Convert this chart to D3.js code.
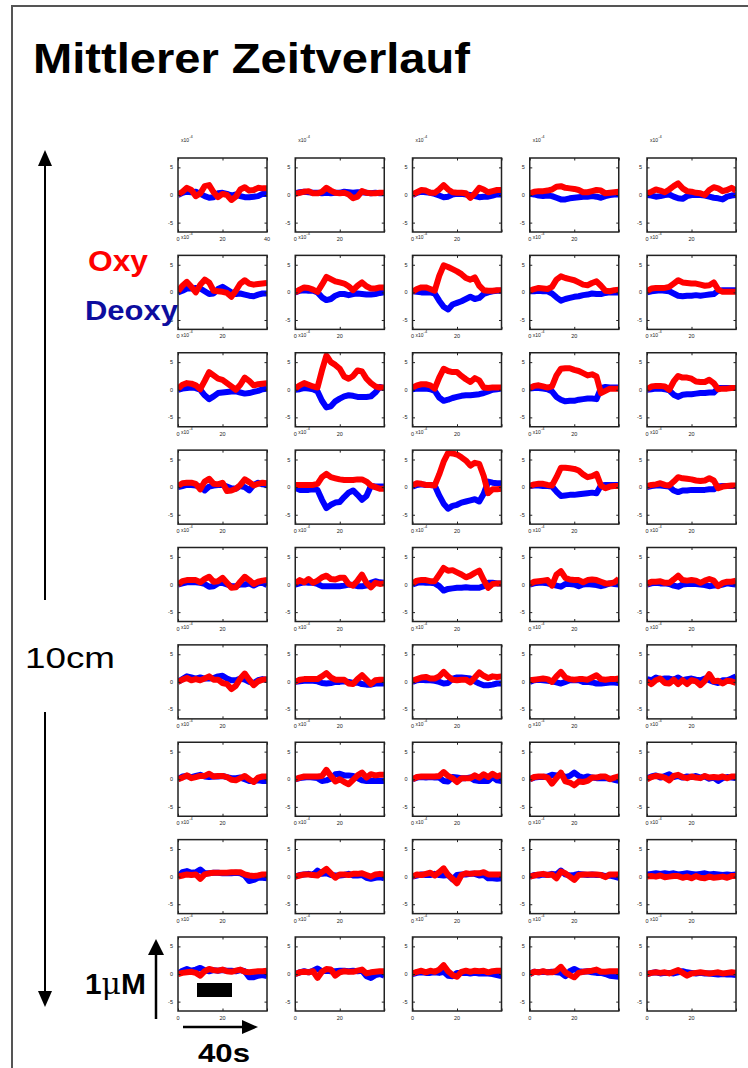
<!DOCTYPE html>
<html>
<head>
<meta charset="utf-8">
<script src="https://d3js.org/d3.v7.min.js"></script>
<style>
  body { margin: 0; background: #fff; }
  text { font-family: "Liberation Sans", Arial, sans-serif; }
</style>
<title>Mittlerer Zeitverlauf</title>
</head>
<body>
<svg id="chart" width="748" height="1068"></svg>
<script>
// time axis of every small panel (s)
const seconds = [0,2,4,6,8,10,12,14,16,18,20,22,24,26,28,30,32,34,36,38,40];
const yTicks = [5, 0, -5];
const yTickLabels = ["5", "0", "-5"];
const xTicks = [0, 20, 40];
const xTickLabels = ["0", "20", "40"];

// Oxy (red) and Deoxy (blue) per row, 5 channels each, unit x10^-4
const oxyRow1 = [
  [0.1,0.6,1.3,0.9,-0.2,0.3,1.6,1.8,0.5,-0.4,0.2,0,-0.9,-0.3,1.0,1.4,0.8,0.9,1.3,1.2,1.2],
  [0.2,0.4,0.6,0.7,0.3,0.3,0.6,1.3,0.8,0.4,0.3,0.4,0.1,-0.6,-0.3,0.7,0.4,0.3,0.3,0.4,0.4],
  [0.1,0.5,0.9,0.8,0.4,0.4,1.0,1.8,1.0,0.5,0.4,0.4,0.3,-0.5,0.3,1.3,1.0,0.5,0.7,0.9,0.9],
  [0.3,0.6,0.7,0.7,0.8,1.0,1.5,1.6,1.3,1.2,1.1,0.9,0.5,0.5,0.7,0.9,0.8,0.3,0.4,0.5,0.6],
  [0.3,0.6,1.0,0.8,0.5,1.0,1.6,2.1,1.2,0.7,0.6,0.4,0.3,0.0,0.9,1.4,1.2,0.7,0.9,1.3,0.8]
];
const deoxyRow1 = [
  [0,0.4,0.6,0.5,0.6,0.2,-0.2,-0.5,-0.4,0.3,0.4,0.2,-0.1,0.1,-0.2,-0.4,-0.4,-0.3,-0.2,0.2,0.2],
  [0.3,0.5,0.6,0.5,0.4,0.4,0.3,0.4,0.3,0.4,0.4,0.6,0.5,0.4,0.5,0.5,0.4,0.3,0.4,0.3,0.3],
  [0,0.4,0.6,0.5,0.4,0.2,-0.1,-0.4,-0.3,0.1,0.2,0.2,0.1,0,-0.2,-0.4,-0.3,-0.3,-0.1,0.1,0.1],
  [0.2,0.1,-0.1,-0.2,-0.1,-0.2,-0.5,-0.8,-0.8,-0.6,-0.5,-0.4,-0.3,-0.3,-0.2,-0.3,-0.5,-0.2,0,0.1,0.1],
  [0,-0.1,-0.3,-0.2,0,0.1,-0.3,-0.6,-0.7,-0.2,0,0,0,-0.1,-0.3,-0.5,-0.6,-0.8,-0.3,-0.1,0]
];
const oxyRow2 = [
  [0.2,1.2,1.9,1.0,0.0,1.4,2.3,1.8,0.3,0.2,0.1,-0.1,-0.8,0.3,1.6,2.2,1.6,1.4,1.5,1.6,1.7],
  [0,0.5,0.9,0.8,0.5,0.1,1.4,2.8,2.4,2.0,1.8,1.6,1.1,0.4,1.2,1.8,1.1,0.7,0.7,0.9,0.9],
  [0.1,0.6,0.9,0.9,0.6,0.3,3.0,4.9,4.6,4.2,3.8,3.3,2.6,2.3,2.7,1.2,0.4,0.3,0.3,0.4,0.4],
  [0.3,0.6,0.8,0.7,0.6,1.0,2.3,2.9,2.6,2.4,2.2,1.8,1.4,1.3,1.7,2.0,1.2,0.3,0.2,0.4,0.5],
  [0.2,0.7,0.8,0.8,0.8,1.0,1.6,2.2,1.8,1.7,1.6,1.6,1.4,1.2,1.3,1.8,0.5,0.1,0.1,0.1,0.1]
];
const deoxyRow2 = [
  [0,0.3,0.7,0.7,0.8,0.7,0.2,-0.3,-0.2,0.6,1.0,0.5,0,-0.3,-0.2,-0.4,-0.6,-0.7,-0.4,-0.2,-0.2],
  [0,0.3,0.4,0.3,0.3,0,-0.9,-1.4,-1.2,-0.6,-0.3,-0.3,-0.5,-0.3,-0.2,-0.3,-0.4,-0.4,-0.3,-0.1,0],
  [0.2,0.1,0,0,0,-0.2,-1.5,-2.6,-3.1,-2.2,-1.9,-1.6,-1.2,-0.8,-1.2,-1.0,-0.3,0,0.2,0.3,0.3],
  [0.2,0.2,0.3,0.2,0.2,-0.2,-0.9,-1.5,-1.2,-1.0,-0.8,-0.7,-0.5,-0.4,-0.2,-0.3,-0.3,-0.1,0,0,0],
  [0,0.2,0.3,0.4,0.3,0.2,-0.2,-0.6,-0.7,-0.6,-0.6,-0.5,-0.6,-0.5,-0.4,-0.3,0.3,0.4,0.4,0.4,0.4]
];
const oxyRow3 = [
  [0.2,0.9,1.2,1.1,0.8,0.1,1.6,3.2,2.6,2.0,1.8,1.2,0.6,0.0,0.9,2.2,1.6,0.8,1.0,1.1,1.2],
  [0.2,0.8,1.2,0.9,0.6,0.4,3.5,6.2,5.0,4.5,3.8,2.4,2.0,2.5,3.5,3.3,2.0,1.2,0.6,0.4,0.4],
  [0.4,0.8,1.0,1.0,0.8,0.2,2.2,3.8,3.4,3.2,3.2,2.5,1.9,1.4,2.1,1.7,0.4,0.3,0.4,0.4,0.4],
  [0.3,0.7,0.8,0.6,0.4,0.6,2.6,3.8,3.9,3.9,3.6,3.4,3.0,2.6,2.8,2.4,-0.6,-0.2,0.2,0.2,0.2],
  [0.1,0.6,0.7,0.7,0.6,0,1.5,2.5,2.2,2.2,2.0,1.5,1.4,1.4,1.8,1.2,0.1,0.2,0.2,0.3,0.3]
];
const deoxyRow3 = [
  [0,0.2,0.3,0.4,0.3,0,-1.0,-1.7,-1.2,-0.6,-0.5,-0.4,-0.3,-0.3,-0.5,-0.7,-0.6,-0.4,-0.2,0.1,0.2],
  [0,0.1,0.3,0.2,0.1,-0.3,-2.0,-3.2,-3.0,-2.1,-1.6,-1.2,-1.0,-1.1,-1.3,-1.3,-1.3,-1.2,-0.5,0.5,0.3],
  [0.1,0.2,0.2,0.2,0.1,-0.2,-1.4,-2.0,-1.8,-1.5,-1.3,-1.1,-1.0,-1.0,-0.9,-0.8,-0.6,-0.3,0,0.1,0.2],
  [0.2,0.3,0.3,0.2,0.1,-0.3,-1.3,-1.8,-2.1,-2.0,-2.0,-1.8,-1.7,-1.6,-1.6,-1.7,0.3,0.5,0.4,0.4,0.4],
  [0,0.1,0.2,0.2,0.1,-0.1,-0.9,-1.3,-0.9,-0.8,-0.8,-0.7,-0.6,-0.6,-0.5,-0.5,0.3,0.3,0.3,0.3,0.3]
];
const oxyRow4 = [
  [0.2,0.7,0.8,0.8,0.6,-0.4,1.0,1.5,0.6,0.5,0.8,-0.7,-0.6,-0.3,0.4,1.4,0.9,0.3,0.6,0.8,0.7],
  [0.4,0.4,0.4,0.4,0.4,0.6,1.8,2.4,1.8,1.6,1.4,1.3,1.3,1.3,1.4,1.4,1.0,0.3,0,-0.3,-0.3],
  [0.3,0.7,0.6,0.4,0.4,0.3,2.3,4.6,6.2,6.1,5.9,5.4,4.8,3.9,4.4,4.2,2.0,-1.1,-0.4,-0.4,-0.3],
  [0.2,0.5,0.6,0.6,0.4,0.3,1.8,3.5,3.5,3.4,3.3,3.0,2.3,1.8,2.0,2.4,0.3,-0.2,0.1,0.2,0.2],
  [0.2,0.4,0.5,0.7,0.4,0.3,1.0,1.8,1.6,1.5,1.4,1.2,1.1,1.2,1.6,1.2,-0.2,0.1,0.2,0.3,0.3]
];
const deoxyRow4 = [
  [0,0.2,0.4,0.4,0.3,0.1,-0.6,0.1,0.3,0.4,0.4,0.1,-0.2,-0.3,0.2,0,-0.6,0.4,0.8,0.5,0.4],
  [-0.1,-0.5,-0.5,-0.5,-0.4,-0.5,-2.3,-3.8,-3.2,-2.8,-2.7,-1.8,-1.0,-0.6,-1.4,-2.3,-1.6,0.2,0.1,0.1,0.1],
  [0.1,0.4,0.5,0.4,0.4,0.3,-1.5,-3.0,-3.9,-3.4,-3.2,-2.8,-2.6,-2.4,-2.2,-2.6,-1.2,1.0,0.8,0.7,0.7],
  [0.2,0.3,0.3,0.2,0.2,0.1,-0.8,-1.6,-1.5,-1.4,-1.4,-1.3,-1.2,-1.1,-1.0,-1.1,0.3,0.4,0.4,0.4,0.4],
  [0,0.2,0.3,0.3,0.2,0.1,-0.6,-0.9,-0.6,-0.6,-0.5,-0.5,-0.5,-0.5,-0.4,-0.4,0.1,0.2,0.2,0.2,0.2]
];
const oxyRow5 = [
  [0,0.6,0.8,0.8,0.8,0.4,1.0,1.4,0.5,0.6,1.2,0.3,-0.6,-0.5,0.5,1.4,0.8,0.1,0.5,0.7,0.8],
  [0.2,0.8,0.4,1.0,0.3,0.7,1.3,1.6,1.0,0.9,1.2,1.2,0.1,-0.2,0.7,1.8,0.3,-0.5,0.3,0.1,0.2],
  [0.2,0.7,0.8,0.8,0.6,0.6,1.8,3.0,2.5,2.6,2.2,1.8,1.3,1.6,2.1,2.5,0.8,-0.6,0.1,0.2,0.2],
  [0.1,0.5,0.6,0.7,0.8,-0.2,1.8,2.4,1.2,0.9,0.8,0.8,0.4,0.8,0.9,0.8,0.5,0.2,0.2,0.4,1.0],
  [0.1,0.5,0.5,0.6,0.3,0.3,0.9,1.6,0.8,0.7,0.8,0.7,0.3,0.7,1.0,0.7,-0.3,0.3,0.5,0.5,0.7]
];
const deoxyRow5 = [
  [0,0.2,0.4,0.4,0.4,0.3,0.1,-0.4,-0.3,0.2,0.3,0,-0.3,-0.3,0,0,0.2,-0.2,0.2,0.3,-0.1],
  [0,0.2,0.4,0.3,0.3,0.1,-0.3,-0.3,-0.3,-0.3,-0.3,-0.2,0,-0.1,-0.3,-0.3,-0.2,0.3,0.6,0.4,0.3],
  [0,0.3,0.4,0.3,0.3,0.2,-0.3,-1.1,-0.8,-0.7,-0.6,-0.6,-0.5,-0.6,-0.6,-0.6,-0.3,0.3,0.3,0.2,0.2],
  [0,0.2,0.3,0.3,0.2,0,-0.2,-0.4,0.1,0.1,0,-0.3,0,0.1,0,-0.1,-0.3,-0.1,0.2,0.1,0],
  [0,0.2,0.3,0.2,0.2,0.1,-0.2,-0.4,0,0.1,0.1,0.1,0,-0.1,-0.3,-0.2,-0.2,0,0.2,0.1,0]
];
const oxyRow6 = [
  [0,0.4,0.7,0.3,0.5,0.3,0.6,1.0,0.4,0.4,-0.2,-0.4,-1.3,-0.7,0.6,1.5,0.4,-0.6,0.1,0.4,0.5],
  [0,0.4,0.5,0.5,0.5,0.5,1.0,1.6,0.8,0.4,0.4,0.4,-0.3,-0.4,0.5,1.2,0.4,-0.4,0.3,0.4,0.4],
  [0.2,0.5,0.8,0.9,0.6,0.6,1.0,1.8,1.0,0.4,0.3,0.4,0.4,-0.1,0.8,1.7,1.1,0.7,1.0,0.9,1.0],
  [0.3,0.4,0.5,0.6,0.5,0,1.0,1.8,0.8,0.5,0.4,0.5,0.5,0.4,0.8,1.2,0.5,0.4,0.5,0.5,0.6],
  [0.1,-0.4,0.3,0.6,-0.2,-0.3,0.4,-0.4,0.3,-0.4,0.3,0.1,-0.6,0.2,1.4,0.1,0.2,-0.3,0.2,0.1,-0.2]
];
const deoxyRow6 = [
  [0,0.5,1.0,0.8,0.6,0.8,0.6,0.6,0.7,1.0,1.1,0.6,0.3,0.3,0.6,0.4,0,-0.2,0.3,0.5,0.4],
  [0,0.1,0.2,0.2,0.2,0.1,-0.2,-0.3,-0.2,0,0,0.1,0,-0.2,-0.1,-0.4,-0.5,-0.5,-0.3,-0.3,-0.3],
  [0,0.3,0.4,0.3,0.3,0.2,0,-0.3,-0.2,0.6,0.8,0.8,0.7,0.6,0.1,-0.3,-0.6,-0.6,-0.5,-0.3,-0.3],
  [0,0.3,0.4,0.3,0.2,0.1,-0.1,-0.3,0,0.3,0.3,0.3,0,0,-0.1,-0.3,-0.3,-0.2,-0.1,-0.1,-0.2],
  [0.5,0.3,0.8,0.5,0.6,0.6,0.4,0.8,0.3,0.5,0.6,0.4,0.3,0.6,0.3,0,-0.2,0.3,0.3,0.6,1.0]
];
const oxyRow7 = [
  [0,0.3,0.7,0.2,0.4,0.6,0.6,1.0,0.5,0.6,0.6,0.4,-0.1,-0.2,0.2,0.6,0,-0.5,0.3,0.5,0.5],
  [0,0.3,0.5,0.5,0.5,0.5,0.6,1.7,0.6,-0.4,0,-0.5,-0.9,-0.1,0.7,1.2,0.3,0.9,0.7,0.8,0.8],
  [0,0.4,0.5,0.5,0.5,0.5,0.6,1.3,0.6,0.2,-0.5,0.2,0.2,0.2,0.7,0.3,0.9,0.4,1.0,0.5,0.8],
  [0,0.4,0.5,0.5,0.3,-0.8,0.2,1.2,-0.4,-0.6,-1.1,-0.4,-0.5,-0.3,0.3,0.3,0.5,0.5,0,0.3,0.5],
  [0,0.4,0.6,0.5,0.3,-0.2,0.6,0.8,0.4,0.2,0.5,0.3,0.2,0.6,0.3,0.4,0.3,0.5,0.2,0.5,0.5]
];
const deoxyRow7 = [
  [0,0.5,0.6,0.4,0.6,0.8,0.5,0.4,0.5,0.5,0.6,0.4,0.2,0.2,0.3,0,-0.3,-0.3,-0.2,-0.3,-0.3],
  [0,0.2,0.3,0.4,0.3,0.2,-0.3,-0.2,0.1,0.9,1.0,0.7,0.7,0.6,0.2,-0.2,-0.3,-0.3,-0.3,-0.3,-0.3],
  [0,0.3,0.4,0.3,0.4,0.3,0.3,-0.3,-0.4,0.4,0.3,0.2,0.2,0.3,-0.2,-0.3,-0.3,-0.3,0.4,-0.2,-0.3],
  [0,0.3,0.4,0.4,0.5,0.8,0.7,0.8,0.4,0.6,1.2,0.6,0.3,0.5,0.3,0.2,0.2,0.2,0.1,-0.1,-0.3],
  [0.2,0.5,0.7,0.3,0.6,0.9,0.4,0.6,0.3,0.5,0.4,0.6,0.3,0.5,0.1,0.3,-0.3,0.2,0.4,0.3,0.2]
];
const oxyRow8 = [
  [0,0.2,0.4,0.3,0.4,-0.4,0.4,0.6,0.7,0.7,0.7,0.7,0.8,0.8,0.8,0.4,0.2,0.1,0.2,0.4,0.4],
  [0,0.2,0.4,0.4,0.3,0.2,0.8,1.4,0.6,-0.2,0.4,0.4,0.3,0.5,0.5,0.6,0.3,0,0.4,0.5,0.4],
  [0,0.4,0.3,0.5,0.7,0.2,0.8,1.5,0.3,-0.4,-1.2,0.3,0.6,0.5,0.6,0.6,0.8,0.4,0.4,0.4,0.4],
  [0,0.2,0.4,0.5,0.3,0.4,-0.3,0.9,0.6,0.0,-0.6,0.3,0.4,0.4,0.4,0.4,0.3,-0.1,0.4,0.4,0.4],
  [0,0.1,0,0.2,-0.1,0,0.1,0.1,-0.2,0,-0.3,0.1,-0.2,-0.3,0,-0.2,-0.1,0,-0.2,0.1,0.1]
];
const deoxyRow8 = [
  [0,0.8,1.0,0.7,0.8,1.3,0.6,0.6,0.7,0.7,0.6,0.6,0.6,0.7,0.6,0.2,-0.8,-0.6,-0.2,-0.2,-0.3],
  [0,0.3,0.4,0.5,0.3,1.1,0.5,0.6,0.3,0.2,0.2,0.3,0.5,0.2,0.2,0.3,-0.2,-0.4,-0.2,-0.1,-0.3],
  [0,0.2,0.4,0.3,0.3,0.5,0.3,0.2,0.3,-0.5,0.3,0.4,0.4,0.5,0.5,0.2,0.3,-0.3,-0.3,-0.4,-0.3],
  [0,0.3,0.2,0.4,0.3,0.5,0.4,1.1,0.4,0.2,0.3,0.5,0.4,0.3,0.4,0.3,0.3,0.1,0.2,0,-0.2],
  [0.4,0.5,0.6,0.5,0.6,0.5,0.6,0.4,0.5,0.6,0.5,0.4,0.5,0.6,0.4,0.5,0.4,0.3,0.4,0.3,0.4]
];
const oxyRow9 = [
  [0,0.2,0.3,0.4,0.2,-0.3,0.5,0.9,0.7,0.6,0.8,0.5,0.4,0.6,0.8,0.4,0.3,0.4,0.5,0.5,0.6],
  [0,0.3,0.4,0.3,0.5,-0.7,0.4,0.9,0.8,-0.3,0.3,0.5,0.4,0.4,0.6,0.8,0.1,0.3,0.4,0.5,0.5],
  [0.1,0.4,0.6,0.3,0.6,0.4,0.8,1.6,0.5,-0.2,-0.5,0.4,0.6,0.4,0.6,0.5,0.6,0.3,0.5,0.6,0.6],
  [0,0.4,0.3,0.5,0.3,0.3,0.6,1.3,0.3,-0.2,-0.6,0.2,0.4,0.5,0.6,0.8,0.4,0.4,0.5,0.5,0.5],
  [0,0.2,0.3,0.2,0.3,0.1,0.4,0.7,0.2,-0.3,0.1,0.2,0.3,0.2,0.1,0.2,0.3,0.1,0.2,0.3,0.2]
];
const deoxyRow9 = [
  [0,0.6,0.9,0.6,0.8,1.1,0.7,0.5,0.7,0.6,0.7,0.6,0.6,0.5,0.7,0.5,-0.6,-0.6,-0.3,-0.2,-0.4],
  [0,0.3,0.5,0.3,0.6,1.0,0.5,0.6,0.5,0.5,0.6,0.6,0.5,0.6,0.5,0.6,-0.4,-0.7,-0.2,0,-0.3],
  [0,0.2,0.3,0.2,0.2,0.3,0.2,0.4,-0.3,-0.4,0.2,0.2,0.2,0.1,0.2,0.1,0.1,0.1,0,-0.2,-0.4],
  [0,0.4,0.3,0.4,0.3,0.4,0.3,0.2,-0.4,0.5,0.9,0.5,0.4,0.5,0.3,0.2,0.2,0,-0.3,-0.4,-0.5],
  [0,0.2,0.3,0.1,0.2,0.2,0.1,0.3,0.5,0.3,0.2,0.1,0.2,0.1,0.1,0,-0.1,0,-0.1,-0.1,-0.2]
];

const oxyRows = [oxyRow1, oxyRow2, oxyRow3, oxyRow4, oxyRow5, oxyRow6, oxyRow7, oxyRow8, oxyRow9];
const deoxyRows = [deoxyRow1, deoxyRow2, deoxyRow3, deoxyRow4, deoxyRow5, deoxyRow6, deoxyRow7, deoxyRow8, deoxyRow9];

var svg = d3.select("#chart");
var panelW = 89;
var panelH = 74;

// page frame
svg.append("path")
  .attr("d", "M12,1068 V6 H748")
  .attr("fill", "none")
  .attr("stroke", "#555")
  .attr("stroke-width", 2);

svg.append("text")
  .attr("x", 33).attr("y", 73)
  .attr("font-size", 42).attr("font-weight", "bold")
  .attr("textLength", 437).attr("lengthAdjust", "spacingAndGlyphs")
  .text("Mittlerer Zeitverlauf");

var colPos = d3.scaleLinear().domain([0, 4]).range([178, 647]);
var rowPos = d3.scaleLinear().domain([0, 8]).range([158, 937]);
var x = d3.scaleLinear().domain([0, 40]).range([0, panelW]);
var y = d3.scaleLinear().domain([-6.7, 6.7]).range([panelH, 0]);

var line = d3.line()
  .x((d, i) => x(seconds[i]))
  .y((d) => y(d));

svg.append("defs").append("clipPath").attr("id", "panelClip")
  .append("rect").attr("width", panelW).attr("height", panelH);

oxyRows.forEach(function (row, r) {
  row.forEach(function (oxy, c) {
    var g = svg.append("g")
      .attr("transform", "translate(" + colPos(c) + "," + rowPos(r) + ")");

    var plot = g.append("g").attr("clip-path", "url(#panelClip)");
    plot.append("path")
      .attr("d", line(deoxyRows[r][c]))
      .attr("fill", "none")
      .attr("stroke", "#0000ff")
      .attr("stroke-width", 6)
      .attr("stroke-linejoin", "round");
    plot.append("path")
      .attr("d", line(oxy))
      .attr("fill", "none")
      .attr("stroke", "#ff0000")
      .attr("stroke-width", 6)
      .attr("stroke-linejoin", "round");

    g.append("rect")
      .attr("width", panelW).attr("height", panelH)
      .attr("fill", "none")
      .attr("stroke", "#222")
      .attr("stroke-width", 1.5);

    // inward ticks on all four sides
    g.append("g").call(d3.axisLeft(y).tickValues(yTicks).tickSize(-2.5).tickFormat(""))
      .call((a) => a.select(".domain").remove());
    g.append("g").attr("transform", "translate(" + panelW + ",0)")
      .call(d3.axisRight(y).tickValues(yTicks).tickSize(-2.5).tickFormat(""))
      .call((a) => a.select(".domain").remove());
    g.append("g").attr("transform", "translate(0," + panelH + ")")
      .call(d3.axisBottom(x).tickValues(xTicks).tickSize(-2.5).tickFormat(""))
      .call((a) => a.select(".domain").remove());
    g.append("g")
      .call(d3.axisTop(x).tickValues(xTicks).tickSize(-2.5).tickFormat(""))
      .call((a) => a.select(".domain").remove());
    g.selectAll(".tick line").attr("stroke", "#222");

    // tiny tick labels
    g.selectAll(".ylab").data(yTicks).enter().append("text")
      .attr("x", -5).attr("y", (d) => y(d) + 2)
      .attr("text-anchor", "end").attr("font-size", 5.5).attr("fill", "#222")
      .text((d, i) => yTickLabels[i]);
    var shown = r === 0 && c === 0 ? xTicks : xTicks.slice(0, 2);
    g.selectAll(".xlab").data(shown).enter().append("text")
      .attr("x", (d) => x(d)).attr("y", panelH + 9)
      .attr("text-anchor", "middle").attr("font-size", 5.5).attr("fill", "#222")
      .text((d, i) => xTickLabels[i]);

    // exponent label, sits just right of the "0" of the panel above
    var mult = g.append("text")
      .attr("x", 3).attr("y", -16)
      .attr("font-size", 5).attr("fill", "#222")
      .text("x10");
    mult.append("tspan").attr("dy", -4).attr("font-size", 4).text("-4");
  });
});

// legend
svg.append("text")
  .attr("x", 88).attr("y", 271)
  .attr("font-size", 29).attr("font-weight", "bold").attr("fill", "#ff0000")
  .attr("textLength", 60).attr("lengthAdjust", "spacingAndGlyphs")
  .text("Oxy");
svg.append("text")
  .attr("x", 85).attr("y", 320)
  .attr("font-size", 27).attr("font-weight", "bold").attr("fill", "#0d0d9e")
  .attr("textLength", 93).attr("lengthAdjust", "spacingAndGlyphs")
  .text("Deoxy");

// 10cm scale
svg.append("line").attr("x1", 45).attr("x2", 45).attr("y1", 600).attr("y2", 162)
  .attr("stroke", "#000").attr("stroke-width", 2);
svg.append("path").attr("d", "M45,150 L38,166 L52,166 Z").attr("fill", "#000");
svg.append("line").attr("x1", 45).attr("x2", 45).attr("y1", 712).attr("y2", 995)
  .attr("stroke", "#000").attr("stroke-width", 2);
svg.append("path").attr("d", "M45,1007 L38,991 L52,991 Z").attr("fill", "#000");
svg.append("text")
  .attr("x", 25).attr("y", 668)
  .attr("font-size", 29)
  .attr("textLength", 90).attr("lengthAdjust", "spacingAndGlyphs")
  .text("10cm");

// 1 µM and 40 s scale bars
svg.append("line").attr("x1", 156).attr("x2", 156).attr("y1", 1019).attr("y2", 950)
  .attr("stroke", "#000").attr("stroke-width", 2.5);
svg.append("path").attr("d", "M156,939 L148,955 L164,955 Z").attr("fill", "#000");
var um = svg.append("text")
  .attr("x", 85).attr("y", 994)
  .attr("font-size", 29).attr("font-weight", "bold")
  .attr("textLength", 61).attr("lengthAdjust", "spacingAndGlyphs");
um.append("tspan").text("1");
um.append("tspan").attr("font-weight", "normal").attr("font-family", "DejaVu Serif").text("\u03bc");
um.append("tspan").text("M");

svg.append("rect").attr("x", 197).attr("y", 983).attr("width", 35).attr("height", 14).attr("fill", "#000");

svg.append("line").attr("x1", 183).attr("x2", 246).attr("y1", 1027).attr("y2", 1027)
  .attr("stroke", "#000").attr("stroke-width", 2.5);
svg.append("path").attr("d", "M258,1027 L242,1020 L242,1034 Z").attr("fill", "#000");
svg.append("text")
  .attr("x", 198).attr("y", 1062)
  .attr("font-size", 26).attr("font-weight", "bold")
  .attr("textLength", 52).attr("lengthAdjust", "spacingAndGlyphs")
  .text("40s");
</script>
</body>
</html>
